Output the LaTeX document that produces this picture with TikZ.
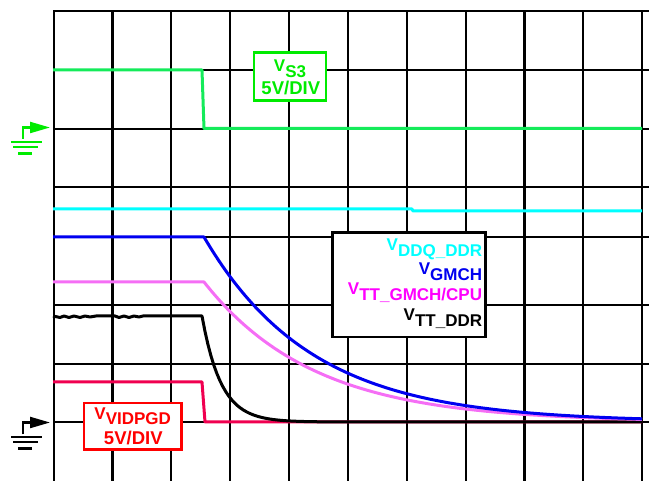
\documentclass[tikz,border=0pt]{standalone}
\usepackage{fontspec}
\setmainfont{Liberation Sans}
\usetikzlibrary{arrows.meta}
\definecolor{scopegreen}{RGB}{0,235,0}
\definecolor{tracegreen}{RGB}{20,235,90}
\definecolor{tracecyan}{RGB}{0,255,255}
\definecolor{traceblue}{RGB}{0,0,240}
\definecolor{tracepink}{RGB}{245,110,245}
\definecolor{labelmagenta}{RGB}{255,0,255}
\definecolor{tracered}{RGB}{240,0,80}
\definecolor{labelred}{RGB}{255,0,0}
\newcommand{\vsig}[1]{V\raisebox{-5.5pt}{#1}}
\tikzset{
  gridline/.style={line width=2.2pt, line cap=rect},
  trace/.style={line width=3pt, line join=round},
  infobox/.style={draw, fill=white, line width=2.7pt, inner sep=0pt, rectangle},
  sigtext/.style={font=\fontsize{17}{17}\selectfont\bfseries, inner sep=0pt},
  divtext/.style={font=\fontsize{18.5}{18.5}\selectfont\bfseries, inner sep=0pt},
  gnd/.style={line width=2.2pt},
}
\begin{document}
\begin{tikzpicture}[x=1pt,y=-1pt]
  \useasboundingbox (0,0) rectangle (649,481);
  \draw[gridline]
    (54,11) -- (649,11)
    (54,70) -- (649,70)
    (54,129) -- (649,129)
    (54,187) -- (649,187)
    (54,237) -- (649,237)
    (54,305) -- (649,305)
    (54,364) -- (649,364)
    (54,422) -- (649,422);
  \draw[gridline]
    (54,11) -- (54,481)
    (112.5,11) -- (112.5,481)
    (171,11) -- (171,481)
    (230,11) -- (230,481)
    (289,11) -- (289,481)
    (348,11) -- (348,481)
    (407,11) -- (407,481)
    (466,11) -- (466,481)
    (524.5,11) -- (524.5,481)
    (583,11) -- (583,481)
    (642,11) -- (642,481);
  \draw[trace, tracegreen] (53,70) -- (202,70) -- (204,128.5) -- (642,128.5);
  \draw[trace, tracecyan] (53,209) -- (412,209) -- (413,211) -- (642,211);
  \draw[trace, tracered] (53,382) -- (202,382) -- (205,422) -- (642,422);
  \draw[trace, black] (53,316) -- (60,317.5) -- (64,316) -- (69,317.5) -- (74,316)
    -- (80,317.5) -- (85,316) -- (90,317) -- (96,316) -- (115,316) -- (119,317.5)
    -- (124,316) -- (129,317.5) -- (134,316) -- (139,317) -- (143,316) -- (202,316)
    -- plot[domain=202:642, samples=150] (\x,{422-106*exp(-(\x-202)/19)});
  \draw[trace, tracepink] (53,282) -- (204,282)
    -- plot[domain=204:642, samples=120] (\x,{422-140*exp(-(\x-204)/110)});
  \draw[trace, traceblue] (53,237) -- (204,237)
    -- plot[domain=204:642, samples=120] (\x,{422-185*exp(-(\x-204)/108)});
  \node[infobox, draw=scopegreen, minimum width=72pt, minimum height=48pt] (s3box) at (290,76.35) {};
  \node[sigtext, text=scopegreen, anchor=base] (s3name) at (290,71.7) {\vsig{S3}};
  \node[divtext, text=scopegreen, anchor=base] (s3div) at (290.8,95) {5V/DIV};
  \node[infobox, draw=labelred, minimum width=97.3pt, minimum height=46.7pt] (pgdbox) at (132.7,426.3) {};
  \node[sigtext, text=labelred, anchor=base] (pgdname) at (132.7,419.5) {\vsig{VIDPGD}};
  \node[divtext, text=labelred, anchor=base] (pgddiv) at (133.3,444.3) {5V/DIV};
  \node[infobox, minimum width=153pt, minimum height=104.7pt] (legendbox) at (408.8,284.65) {};
  \node[sigtext, text=tracecyan, anchor=base east] (ddqlabel) at (482.3,250.7) {\vsig{DDQ\_DDR}};
  \node[sigtext, text=traceblue, anchor=base east] (gmchlabel) at (482.3,275) {\vsig{GMCH}};
  \node[sigtext, text=labelmagenta, anchor=base east] (ttcpulabel) at (482.3,295) {\vsig{TT\_GMCH/CPU}};
  \node[sigtext, text=black, anchor=base east] (ttddrlabel) at (482.3,320.7) {\vsig{TT\_DDR}};
  \coordinate (s3gnd) at (23,139);
  \coordinate (s3zero) at (50,127.5);
  \draw[gnd, scopegreen, -{Triangle[length=20pt,width=11pt]}] (s3gnd) |- (s3zero);
  \draw[gnd, scopegreen] (11,141.7) -- (42,141.7) (13,147.1) -- (38,147.1) (18,153.5) -- (32,153.5);
  \coordinate (pgdgnd) at (23,434.5);
  \coordinate (pgdzero) at (50,422.5);
  \draw[gnd, black, -{Triangle[length=20pt,width=11pt]}] (pgdgnd) |- (pgdzero);
  \draw[gnd, black] (11,436.7) -- (42,436.7) (13,442.1) -- (38,442.1) (18,448.5) -- (32,448.5);
\end{tikzpicture}
\end{document}
